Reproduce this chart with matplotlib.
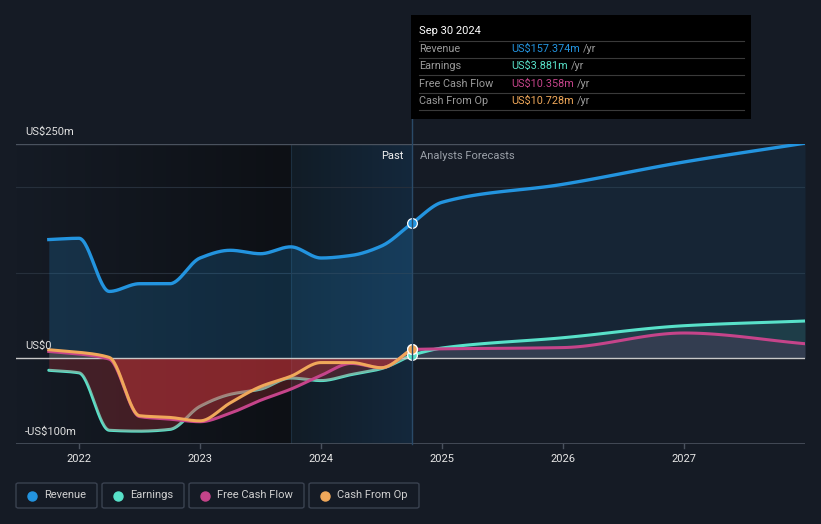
import numpy as np
import matplotlib
matplotlib.use("Agg")
import matplotlib.pyplot as plt
from matplotlib.patches import Rectangle, FancyBboxPatch
from matplotlib.lines import Line2D

plt.rcParams['font.family'] = ['Roboto', 'DejaVu Sans']

# ---------------- data (US$ m) ----------------
past_t = [2021.75, 2022.0, 2022.25, 2022.5, 2022.75, 2023.0, 2023.25, 2023.5,
          2023.75, 2024.0, 2024.25, 2024.5, 2024.75]
rev_past = [138.5, 140, 78, 87, 87, 117, 126, 122, 130, 117, 120, 131, 157.374]
earn_past = [-14, -17, -84, -85, -83, -56, -42, -36, -23, -26, -19, -12, 3.881]
fcf_past = [8, 5, -1, -68, -71, -74, -64, -49, -36, -20, -6, -11, 10.358]
cfo_past = [10, 7, 1, -67, -69, -73, -52, -33, -21, -5, -5, -11, 10.728]

fc_t = [2024.75, 2025.0, 2026.0, 2027.0, 2028.0]
rev_fc = [157.374, 182, 203, 229, 251]
earn_fc = [3.881, 12, 24, 38, 43.5]
fcf_fc = [10.358, 11, 12.5, 29.5, 17]

year_ticks = [2022, 2023, 2024, 2025, 2026, 2027]
y_labels = [(250, "US$250m"), (0, "US$0"), (-100, "-US$100m")]

tooltip_date = "Sep 30 2024"
tooltip_rows = [("Revenue", "US$157.374m", "#2394df"),
                ("Earnings", "US$3.881m", "#58e1c9"),
                ("Free Cash Flow", "US$10.358m", "#c5448a"),
                ("Cash From Op", "US$10.728m", "#f0a85a")]
legend_items = [("Revenue", "#2394df"), ("Earnings", "#58e1c9"),
                ("Free Cash Flow", "#c5448a"), ("Cash From Op", "#f0a85a")]

C_REV, C_EARN, C_FCF, C_CFO = "#2394df", "#58e1c9", "#c5448a", "#f0a85a"
BG = "#151b25"


def pchip(x, y, n=30):
    x = np.asarray(x, float); y = np.asarray(y, float)
    h = np.diff(x); d = np.diff(y) / h
    m = np.zeros_like(y)
    for k in range(1, len(x) - 1):
        if d[k - 1] * d[k] > 0:
            w1 = 2 * h[k] + h[k - 1]; w2 = h[k] + 2 * h[k - 1]
            m[k] = (w1 + w2) / (w1 / d[k - 1] + w2 / d[k])
    m[0] = d[0] if len(d) else 0
    m[-1] = d[-1] if len(d) else 0
    xs, ys = [], []
    for k in range(len(x) - 1):
        t = np.linspace(0, 1, n, endpoint=(k == len(x) - 2))
        h00 = 2 * t**3 - 3 * t**2 + 1; h10 = t**3 - 2 * t**2 + t
        h01 = -2 * t**3 + 3 * t**2; h11 = t**3 - t**2
        xs.append(x[k] + t * h[k])
        ys.append(h00 * y[k] + h10 * h[k] * m[k] + h01 * y[k + 1] + h11 * h[k] * m[k + 1])
    return np.concatenate(xs), np.concatenate(ys)


W, H = 821, 524
fig = plt.figure(figsize=(W / 100, H / 100), dpi=100, facecolor=BG)


def fx(x):
    return x / W


def fy(y):
    return 1 - y / H


ax = fig.add_axes([fx(16), fy(444), fx(805) - fx(16), fy(144) - fy(444)])
ax.set_facecolor(BG)
X0, X1 = 2021.479, 2028.0
ax.set_xlim(X0, X1)
ax.set_ylim(-100, 250)
ax.axis('off')

# dark gradient for past region
c0 = np.array([21, 27, 37]) / 255
c1 = np.array([13, 16, 21]) / 255
g = np.linspace(0, 1, 256)
grad = (c0[None, :] * (1 - g[:, None]) + c1[None, :] * g[:, None])[None, :, :]
ax.imshow(grad, extent=[X0, 2023.75, -100, 250], aspect='auto', zorder=0)
# last-year highlight (gradient to the right)
ca = np.array([17, 28, 38]) / 255
cb = np.array([20, 40, 60]) / 255
grad2 = (ca[None, :] * (1 - g[:, None]) + cb[None, :] * g[:, None])[None, :, :]
ax.imshow(grad2, extent=[2023.75, 2024.75, -100, 250], aspect='auto', zorder=0.5)
ax.axvline(2023.75, color="#1c2f40", lw=0.8, zorder=0.6)

# grid
for v, col, lw in [(200, "#262f3b", 0.8), (100, "#262f3b", 0.8), (250, "#4a525e", 1.0),
                   (-100, "#4a525e", 1.2)]:
    ax.axhline(v, color=col, lw=lw, zorder=1)

# smooth series
rx, ry = pchip(past_t, rev_past)
rfx, rfy = pchip(fc_t, rev_fc)
ex, ey = pchip(past_t, earn_past)
efx, efy = pchip(fc_t, earn_fc)
fx_, fy_ = pchip(past_t, fcf_past)
ffx, ffy = pchip(fc_t, fcf_fc)
cx, cy = pchip(past_t, cfo_past)

# fills
ax.fill_between(rx, ry, 0, color=C_REV, alpha=0.2, lw=0, zorder=1.2)
ax.fill_between(rfx, rfy, 0, color=C_REV, alpha=0.09, lw=0, zorder=1.2)
ax.fill_between(efx, efy, 0, color=C_EARN, alpha=0.13, lw=0, zorder=1.3)
ax.fill_between(ffx, ffy, 0, color=C_FCF, alpha=0.13, lw=0, zorder=1.3)

# earnings line under red fills
ax.plot(ex, ey, color=C_EARN, lw=2.2, zorder=2, solid_capstyle='round')
for sx, sy in [(ex, ey), (fx_, fy_), (cx, cy)]:
    ax.fill_between(sx, np.minimum(sy, 0), 0, color="#e0393e", alpha=0.24, lw=0, zorder=2.2)
    ax.fill_between(sx, np.maximum(sy, 0), 0, color="#e8a060", alpha=0.10, lw=0, zorder=2.2)

ax.axhline(0, color="#c8c8c8", lw=1.0, zorder=2.5)

ax.plot(fx_, fy_, color=C_FCF, lw=2.2, zorder=3)
ax.plot(cx, cy, color=C_CFO, lw=2.2, zorder=3.1)
ax.plot(efx, efy, color=C_EARN, lw=2.2, zorder=3)
ax.plot(ffx, ffy, color=C_FCF, lw=2.2, zorder=3)
ax.plot(rx, ry, color=C_REV, lw=2.4, zorder=3.2)
ax.plot(rfx, rfy, color=C_REV, lw=2.4, zorder=3.2)

# markers at the latest reported point
for val, col in [(rev_past[-1], C_REV), (earn_past[-1], C_EARN), (fcf_past[-1], C_FCF),
                 (cfo_past[-1], C_CFO)]:
    ax.plot([past_t[-1]], [val], 'o', ms=7, mfc=col, mec="white", mew=0.9, zorder=4)

# year ticks
for yr in year_ticks:
    ax.plot([yr, yr], [-100, -104.5], color="#4a525e", lw=1, clip_on=False, zorder=1)
    ax.text(yr, -117, str(yr), ha='center', va='center', color="#e6e6e6", fontsize=8,
            clip_on=False)

# y labels
for v, lab in y_labels:
    ax.text(2021.555, v + 14.5, lab, ha='left', va='center', color="#e0e0e0", fontsize=8,
            zorder=5)

ax.text(2024.68, 236, "Past", ha='right', va='center', color="#f0f0f0", fontsize=8, zorder=5)
ax.text(2024.82, 236, "Analysts Forecasts", ha='left', va='center', color="#9aa0a8",
        fontsize=8, zorder=5)

# vertical marker line (figure coords)
fig.add_artist(Line2D([fx(411.5), fx(411.5)], [fy(119), fy(444)], color="#2a4a68", lw=1))

# tooltip
fig.add_artist(Rectangle((fx(411), fy(119)), fx(751) - fx(411), fy(15) - fy(119),
                         transform=fig.transFigure, facecolor="black", edgecolor="none",
                         zorder=10))
fig.text(fx(419), fy(31), tooltip_date, color="white", fontsize=8, va='center', ha='left',
         zorder=11)
row_y = [49, 66, 84, 101]
for yy in [40.5, 58, 75, 92.5, 110]:
    fig.add_artist(Line2D([fx(419), fx(744)], [fy(yy), fy(yy)], color="#3a3a3a", lw=0.8,
                          zorder=11))
for (lab, val, col), yy in zip(tooltip_rows, row_y):
    fig.text(fx(419), fy(yy), lab, color="#9a9a9a", fontsize=7.8, va='center', ha='left',
             zorder=11)
    t = fig.text(fx(511), fy(yy), val, color=col, fontsize=7.8, va='center', ha='left',
                 zorder=11)
    fig.canvas.draw()
    bb = t.get_window_extent()
    fig.text(bb.x1 / W + fx(3), fy(yy), "/yr", color="#9a9a9a", fontsize=7.8, va='center',
             ha='left', zorder=11)

# legend
boxes = [(16, 97), (102, 184), (189, 304), (309, 419)]
for (lab, col), (x0, x1) in zip(legend_items, boxes):
    fig.add_artist(FancyBboxPatch((fx(x0), fy(508)), fx(x1) - fx(x0), fy(483) - fy(508),
                                  boxstyle="round,pad=0,rounding_size=0.003",
                                  transform=fig.transFigure, facecolor="none",
                                  edgecolor="#3a4250", lw=1))
    fig.add_artist(Line2D([fx(x0 + 16)], [fy(495.5)], marker='o', ms=6.5, color=col,
                          lw=0))
    fig.text(fx(x0 + 28), fy(495.5), lab, color="#d0d0d0", fontsize=8, va='center',
             ha='left')

fig.savefig("out.png", dpi=100, facecolor=BG)
